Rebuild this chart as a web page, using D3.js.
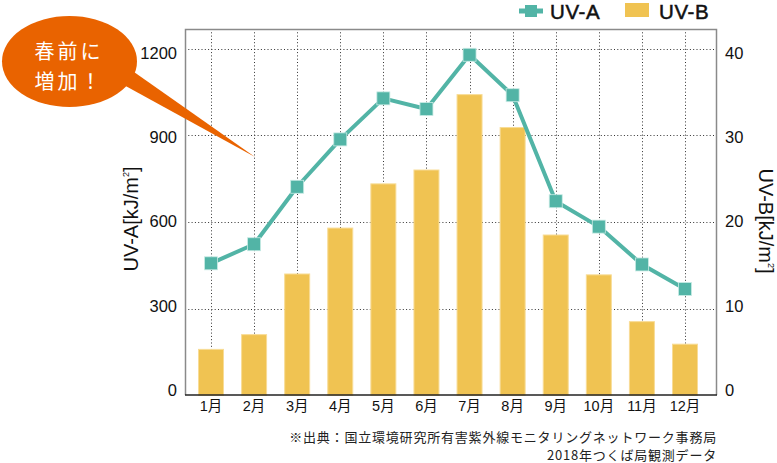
<!DOCTYPE html>
<html><head><meta charset="utf-8">
<script src="https://cdn.jsdelivr.net/npm/d3@7/dist/d3.min.js"></script>
<style>
html,body{margin:0;padding:0;background:#fff;}
svg{display:block;font-family:"Liberation Sans","Noto Sans CJK JP",sans-serif;}
</style></head>
<body>
<script>
const months = ["1月","2月","3月","4月","5月","6月","7月","8月","9月","10月","11月","12月"];
const uvA = [457, 523, 722, 886, 1028, 991, 1179, 1039, 672, 584, 453, 368];
const uvB = [5.3, 7.0, 14.0, 19.3, 24.4, 26.0, 34.7, 30.9, 18.5, 13.9, 8.5, 5.9];
const ticksA = [0, 300, 600, 900, 1200];
const ticksB = [0, 10, 20, 30, 40];
const calloutLines = ["春前に", "増加！"];
const noteLines = ["※出典：国立環境研究所有害紫外線モニタリングネットワーク事務局", "2018年つくば局観測データ"];

const W = 777, H = 463;
const frame = {l:185, r:717, t:29, b:395};
const teal = "#52b4a6", yellow = "#f0c352", orange = "#e96300";

const svg = d3.select("body").append("svg").attr("width", W).attr("height", H);

const x = d3.scaleBand().domain(months).range([189.45, 706.55]).paddingInner(0.42).paddingOuter(0.21);
const cx = d => x(d) + x.bandwidth()/2;
const yA = d3.scaleLinear().domain([0,1200]).range([395.3, 48.7]);
const yB = d3.scaleLinear().domain([0,40]).range([395.3, 48.7]);
const labA = d3.scaleLinear().domain([0,1200]).range([390, 53]);
const labB = d3.scaleLinear().domain([0,40]).range([390, 53]);

// grid
const grid = svg.append("g").attr("stroke","#333").attr("stroke-width",1).attr("stroke-dasharray","1,2.3");
grid.selectAll("line.h").data(ticksA.filter(t=>t>0)).join("line")
  .attr("x1", frame.l).attr("x2", frame.r)
  .attr("y1", d=>Math.round(yA(d))+0.5).attr("y2", d=>Math.round(yA(d))+0.5);
grid.selectAll("line.v").data(months).join("line")
  .attr("x1", d=>Math.round(cx(d))+0.5).attr("x2", d=>Math.round(cx(d))+0.5)
  .attr("y1", frame.t).attr("y2", frame.b);

// bars
svg.append("g").selectAll("rect").data(uvB).join("rect")
  .attr("x", (d,i)=>x(months[i])).attr("width", x.bandwidth())
  .attr("y", d=>yB(d)).attr("height", d=>yB(0)-yB(d))
  .attr("fill", yellow).attr("stroke","#f8dc96").attr("stroke-width",1);

// frame
svg.append("path").attr("d",`M${frame.l+0.5},${frame.b} V${frame.t+0.5} H${frame.r-0.5} V${frame.b}`)
  .attr("fill","none").attr("stroke","#8a8a8a").attr("stroke-width",1.5);
svg.append("line").attr("x1",frame.l).attr("x2",frame.r).attr("y1",frame.b).attr("y2",frame.b)
  .attr("stroke","#222").attr("stroke-width",1.5);

// line
const line = d3.line().x((d,i)=>cx(months[i])).y(d=>yA(d));
svg.append("path").datum(uvA).attr("d", line).attr("fill","none")
  .attr("stroke", teal).attr("stroke-width",4).attr("stroke-linejoin","round");
svg.append("g").selectAll("rect").data(uvA).join("rect")
  .attr("x",(d,i)=>cx(months[i])-6.5).attr("y",d=>yA(d)-6.5)
  .attr("width",13).attr("height",13).attr("fill",teal).attr("stroke","#c9ebe5").attr("stroke-width",0.8);

// axes labels
const axL = svg.append("g").attr("transform","translate(177,0)")
  .call(d3.axisLeft(labA).tickValues(ticksA).tickFormat(d3.format("d")).tickSize(0).tickPadding(0));
axL.select(".domain").remove();
axL.selectAll("text").attr("font-size",16.5).attr("font-family","Liberation Sans").attr("fill","#111");
const axR = svg.append("g").attr("transform","translate(725,0)")
  .call(d3.axisRight(labB).tickValues(ticksB).tickFormat(d3.format("d")).tickSize(0).tickPadding(0));
axR.select(".domain").remove();
axR.selectAll("text").attr("font-size",16.5).attr("font-family","Liberation Sans").attr("fill","#111");

const axX = svg.append("g").attr("transform","translate(0,400)")
  .call(d3.axisBottom(x).tickSize(0).tickPadding(0));
axX.select(".domain").remove();
axX.selectAll("text").attr("font-size",14.5).attr("dy","0.75em").attr("fill","#111")
  .attr("font-family","'Liberation Sans','Noto Sans CJK JP'");

// axis titles
const tA = svg.append("text").attr("transform","translate(138,219) rotate(-90)")
  .attr("text-anchor","middle").attr("font-size",20).attr("fill","#111");
tA.append("tspan").text("UV-A[kJ/m");
tA.append("tspan").attr("font-size",9).attr("dy",-9).text("2");
tA.append("tspan").attr("dy",9).text("]");
const tB = svg.append("text").attr("transform","translate(759,221) rotate(90)")
  .attr("text-anchor","middle").attr("font-size",20).attr("fill","#111");
tB.append("tspan").text("UV-B[kJ/m");
tB.append("tspan").attr("font-size",9).attr("dy",-9).text("2");
tB.append("tspan").attr("dy",9).text("]");

// legend
const lg = svg.append("g");
lg.append("line").attr("x1",519).attr("x2",543).attr("y1",11).attr("y2",11).attr("stroke",teal).attr("stroke-width",5);
lg.append("rect").attr("x",525).attr("y",5).attr("width",12).attr("height",12).attr("fill",teal);
lg.append("text").attr("x",550).attr("y",18.5).attr("font-size",20.5).attr("letter-spacing",0.6).attr("fill","#111").attr("stroke","#111").attr("stroke-width",0.5).text("UV-A");
lg.append("rect").attr("x",625).attr("y",3).attr("width",24).attr("height",14).attr("fill",yellow);
lg.append("text").attr("x",659).attr("y",18.5).attr("font-size",20.5).attr("letter-spacing",0.6).attr("fill","#111").attr("stroke","#111").attr("stroke-width",0.5).text("UV-B");

// callout
const co = svg.append("g");
co.append("path").attr("d","M122,84 L255,157 L134,72 Z").attr("fill",orange);
co.append("ellipse").attr("cx",69.5).attr("cy",61.5).attr("rx",67.5).attr("ry",45.5).attr("fill",orange);
co.selectAll("text").data(calloutLines).join("text")
  .attr("x",69).attr("y",(d,i)=>52+i*30).attr("dy","0.35em").attr("text-anchor","middle")
  .attr("font-family","'Noto Sans CJK JP'").attr("font-size",20).attr("letter-spacing",3)
  .attr("fill","#fff").text(d=>d);

// notes
svg.selectAll("text.note").data(noteLines).join("text").attr("class","note")
  .attr("x",717).attr("y",(d,i)=>442+i*18).attr("text-anchor","end")
  .attr("font-family","'Noto Sans CJK JP'").attr("font-size",13).attr("letter-spacing",0.8).attr("fill","#222").text(d=>d);
</script>
</body></html>
